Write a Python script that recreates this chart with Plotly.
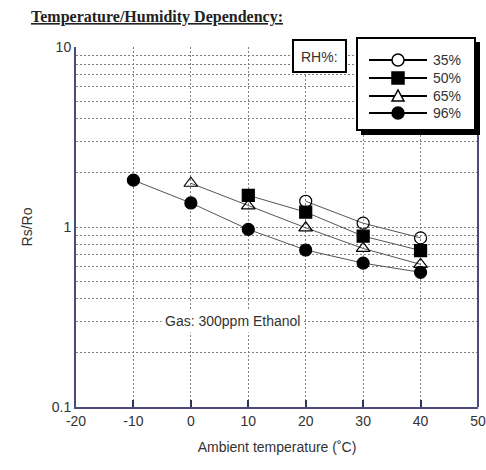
import math
import plotly.graph_objects as go

# ---- data ----
temp_35 = [20, 30, 40]
rs_35 = [1.39, 1.05, 0.87]
temp_50 = [10, 20, 30, 40]
rs_50 = [1.50, 1.21, 0.89, 0.74]
temp_65 = [0, 10, 20, 30, 40]
rs_65 = [1.75, 1.31, 0.99, 0.76, 0.62]
temp_96 = [-10, 0, 10, 20, 30, 40]
rs_96 = [1.82, 1.36, 0.97, 0.745, 0.63, 0.56]

x_ticks = [-20, -10, 0, 10, 20, 30, 40, 50]
y_grid = [0.1, 0.2, 0.3, 0.4, 0.5, 0.6, 0.7, 0.8, 0.9,
          1, 2, 3, 4, 5, 6, 7, 8, 9, 10]
y_labels = {0.1: "0.1", 1: "1", 10: "10"}

series = [
    ("35%", temp_35, rs_35, "circle-open"),
    ("50%", temp_50, rs_50, "square"),
    ("65%", temp_65, rs_65, "triangle-up-open"),
    ("96%", temp_96, rs_96, "circle"),
]

W, H = 486, 470
L, R, T, B = 76, 8, 47, 63
PW, PH = W - L - R, H - T - B


def px(xp):
    return (xp - L) / PW


def py(yp):
    return 1 - (yp - T) / PH


fig = go.Figure()
for name, xs, ys, sym in series:
    fig.add_trace(go.Scatter(
        x=xs, y=ys, name=name, mode="lines+markers", showlegend=False,
        line=dict(color="#555555", width=1),
        marker=dict(symbol=sym, size=12, color="black",
                    line=dict(color="black", width=1.2)),
    ))

axis_font = dict(family="Liberation Sans, Arial", size=14, color="#333333")
frame = "#4b4b78"
grid_dash = "2px,2px"

fig.update_xaxes(
    range=[-20, 50], tickvals=x_ticks, ticktext=[str(v) for v in x_ticks],
    showgrid=True, gridcolor="#808080", griddash=grid_dash, gridwidth=1,
    showline=True, linecolor=frame, linewidth=2, mirror=False,
    ticks="inside", ticklen=7, tickcolor="#333355", tickwidth=1.5,
    tickfont=axis_font, zeroline=False, automargin=False,
    title=dict(text="Ambient temperature (˚C)", font=axis_font, standoff=14),
)
fig.update_yaxes(
    type="log", range=[-1, 1], tickvals=y_grid,
    ticktext=[y_labels.get(v, "") for v in y_grid],
    showgrid=True, gridcolor="#808080", griddash=grid_dash, gridwidth=1,
    showline=True, linecolor=frame, linewidth=2, mirror=False,
    ticks="", tickfont=axis_font, zeroline=False, automargin=False,
    title=dict(text="Rs/Ro", font=axis_font, standoff=16),
)

shapes = [
    dict(type="line", xref="paper", yref="y", x0=0, x1=1, y0=0, y1=0,
         line=dict(color=frame, width=2), layer="above"),
    dict(type="line", xref="paper", yref="paper", x0=1, x1=1, y0=0, y1=1,
         line=dict(color=frame, width=2), layer="above"),
    # RH% box
    dict(type="rect", xref="paper", yref="paper",
         x0=px(293), x1=px(346), y0=py(72), y1=py(40),
         line=dict(color="black", width=2), fillcolor="white", layer="above"),
    # legend shadow + box
    dict(type="rect", xref="paper", yref="paper",
         x0=px(361), x1=px(480), y0=py(135), y1=py(42),
         line=dict(width=0), fillcolor="black", layer="above"),
    dict(type="rect", xref="paper", yref="paper",
         x0=px(357), x1=px(475), y0=py(130), y1=py(38),
         line=dict(color="black", width=2), fillcolor="white", layer="above"),
]

annotations = [
    dict(text="<b><u>Temperature/Humidity Dependency:</u></b>",
         xref="paper", yref="paper", x=px(29), y=py(17),
         xanchor="left", yanchor="middle", showarrow=False,
         font=dict(family="Liberation Serif, Times New Roman", size=16,
                   color="#222222")),
    dict(text="RH%:", xref="paper", yref="paper", x=px(319.5), y=py(57),
         xanchor="center", yanchor="middle", showarrow=False,
         font=dict(family="Liberation Sans, Arial", size=14, color="#333333")),
    dict(text="Gas: 300ppm Ethanol", xref="x", yref="y", x=7.3,
         y=math.log10(0.3), xanchor="center", yanchor="middle",
         showarrow=False, bgcolor="white", borderpad=3,
         font=dict(family="Liberation Sans, Arial", size=14, color="#333333")),
]

# hand-drawn legend (glyph layout in pixels)
row_y = [60, 78, 96, 113]
mx, r = 398, 6
for (name, _, _, sym), yy in zip(series, row_y):
    shapes.append(dict(type="line", xref="paper", yref="paper",
                       x0=px(369), x1=px(427), y0=py(yy), y1=py(yy),
                       line=dict(color="black", width=2), layer="above"))
    fill = "white" if sym.endswith("open") else "black"
    g = dict(xref="paper", yref="paper", fillcolor=fill,
             line=dict(color="black", width=1.5), layer="above")
    if sym.startswith("circle"):
        g.update(type="circle", x0=px(mx - r), x1=px(mx + r),
                 y0=py(yy + r), y1=py(yy - r))
    elif sym.startswith("square"):
        g.update(type="rect", x0=px(mx - r), x1=px(mx + r),
                 y0=py(yy + r), y1=py(yy - r))
    else:
        g.update(type="path", path="M {} {} L {} {} L {} {} Z".format(
            px(mx - r), py(yy + r - 1), px(mx + r), py(yy + r - 1),
            px(mx), py(yy - r)))
    shapes.append(g)
    annotations.append(dict(
        text=name, xref="paper", yref="paper", x=px(431), y=py(yy),
        xanchor="left", yanchor="middle", showarrow=False,
        font=dict(family="Liberation Sans, Arial", size=14, color="#333333")))

fig.update_layout(
    width=W, height=H, margin=dict(l=L, r=R, t=T, b=B, autoexpand=False),
    paper_bgcolor="white", plot_bgcolor="white",
    shapes=shapes, annotations=annotations, showlegend=False,
)

fig.write_html(
    "out.html",
    config={"displayModeBar": False},
    post_script="document.body.style.margin='0';document.body.style.overflow='hidden';",
)
